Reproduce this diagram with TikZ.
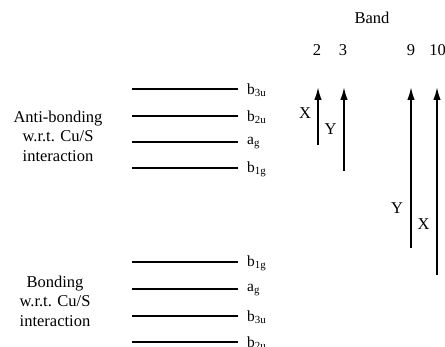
\documentclass[tikz,border=0pt]{standalone}
\usepackage{fontspec}
\setmainfont{Liberation Serif}
\usetikzlibrary{arrows.meta}
\tikzset{
  level/.style={line width=1.7pt},
  lvlab/.style={anchor=west,font=\fontsize{15.5}{17}\selectfont,inner sep=0pt},
  band/.style={line width=1.8pt,-{Latex[length=13pt,width=7.5pt]}},
  txt/.style={font=\fontsize{16.5}{19.5}\selectfont,align=center,inner sep=0pt},
}
\begin{document}
\begin{tikzpicture}[x=1pt,y=-1pt]
\useasboundingbox (0,0) rectangle (445,347);
\foreach \n/\y/\t in {a1/89/b\textsubscript{3u},a2/116/b\textsubscript{2u},a3/142/a\textsubscript{g},a4/168/b\textsubscript{1g},
  b1/262/b\textsubscript{1g},b2/289/a\textsubscript{g},b3/316/b\textsubscript{3u},b4/342/b\textsubscript{2u}}{
  \coordinate (\n l) at (132,\y);
  \coordinate (\n r) at (238,\y);
  \draw[level] (\n l) -- (\n r);
  \node[lvlab] (\n t) at (247,\y+1) {\t};
}
\node[txt] (anti) at (58,136) {Anti-bonding\\w.r.t. Cu/S\\interaction};
\node[txt] (bond) at (55,301) {Bonding\\w.r.t. Cu/S\\interaction};
\node[txt] (bandt) at (372,18) {Band};
\node[txt] (n2) at (317,50) {2};
\node[txt] (n3) at (343,50) {3};
\node[txt] (n9) at (411,50) {9};
\node[txt] (n10) at (437.5,50) {10};
\coordinate (s2) at (318,145);
\coordinate (e2) at (318,87);
\coordinate (s3) at (344,171);
\coordinate (e3) at (344,87);
\coordinate (s9) at (411,248);
\coordinate (e9) at (411,87);
\coordinate (s10) at (437,275);
\coordinate (e10) at (437,87);
\draw[band] (s2) -- (e2);
\draw[band] (s3) -- (e3);
\draw[band] (s9) -- (e9);
\draw[band] (s10) -- (e10);
\node[txt] (x1) at (305,113) {X};
\node[txt] (y1) at (330.5,129) {Y};
\node[txt] (y2) at (397,208) {Y};
\node[txt] (x2) at (423.5,224) {X};
\end{tikzpicture}
\end{document}
